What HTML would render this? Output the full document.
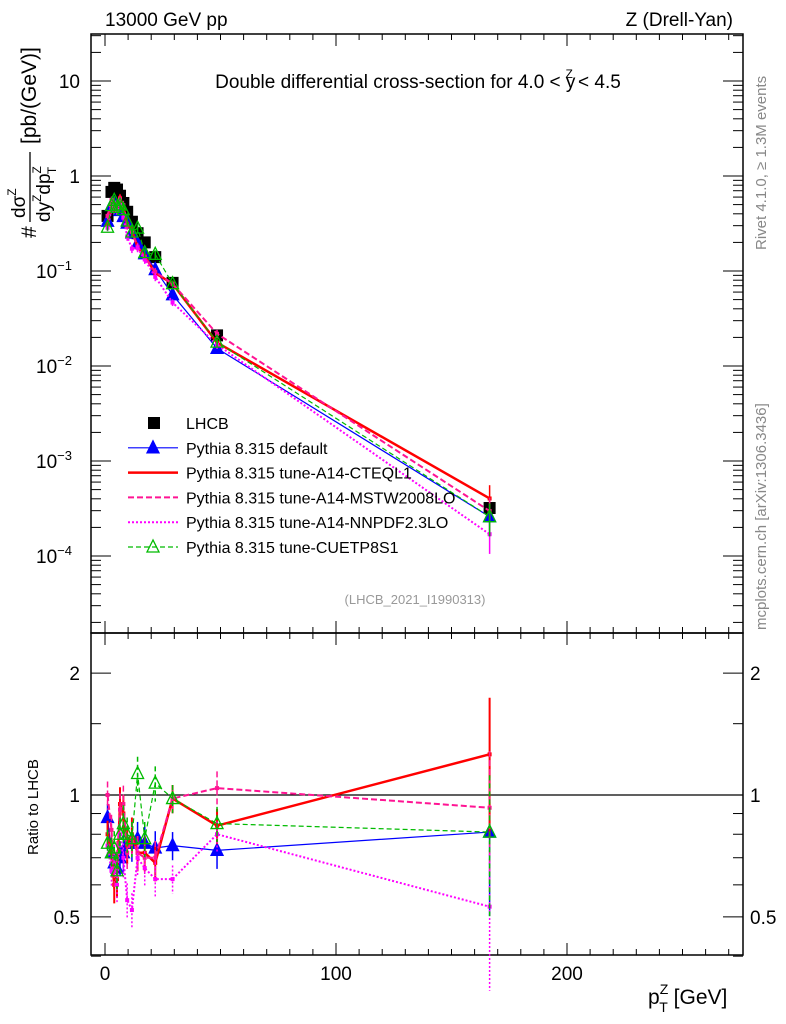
<!DOCTYPE html>
<html><head><meta charset="utf-8"><style>
html,body{margin:0;padding:0;background:#fff}
svg{display:block;font-family:"Liberation Sans",sans-serif}
</style></head><body>
<svg id="c" width="786" height="1024" viewBox="0 0 786 1024">
<g id="g"></g>
</svg>
<script>
const pt=[1.1,2.8,4.0,5.2,6.5,7.95,9.6,11.65,14.1,17.2,21.75,29.25,48.5,166.5];
const lhcb=[0.38,0.68,0.75,0.72,0.62,0.52,0.42,0.33,0.25,0.2,0.14,0.075,0.021,0.00032];
const ratioDefault=[0.88,0.72,0.68,0.66,0.70,0.72,0.76,0.76,0.78,0.76,0.74,0.75,0.73,0.81];
const ratioCteq=[0.8,0.72,0.6,0.62,0.95,0.9,0.75,0.8,0.72,0.72,0.68,0.98,0.84,1.26];
const ratioMstw=[1.0,0.82,0.65,0.7,0.92,0.95,0.72,0.78,0.72,0.70,0.70,0.98,1.04,0.93];
const ratioNnpdf=[0.75,0.65,0.7,0.6,0.8,0.7,0.55,0.52,0.7,0.66,0.62,0.62,0.80,0.53];
const ratioCuetp=[0.76,0.72,0.74,0.65,0.8,0.85,0.8,0.78,1.13,0.78,1.07,0.98,0.85,0.81];
const relErr=[0.08,0.09,0.1,0.1,0.1,0.11,0.1,0.1,0.1,0.1,0.1,0.08,0.1,0.38];
const xTicks=[0,100,200];
const mainTicks=[1,0,-1,-2,-3,-4];
const ratioTicks=[2,1,0.5];

const NS="http://www.w3.org/2000/svg";
const g=document.getElementById('g');
function el(t,a,p){const e=document.createElementNS(NS,t);for(const k in a)e.setAttribute(k,a[k]);(p||g).appendChild(e);return e;}
const L=91,R=743,T=34,MB=633,B=955;
const X=v=>105+v*2.31;
const Y=v=>176-95*Math.log10(v);
const YR=v=>795-405*Math.log10(v);

let f=el('rect',{x:L,y:T,width:R-L,height:MB-T,fill:'none',stroke:'#000','stroke-width':1.5});

f=el('rect',{x:L,y:MB,width:R-L,height:B-MB,fill:'none',stroke:'#000','stroke-width':1.5});


for(let v=0;v<=270;v+=10){const x=X(v);const len=v%100===0?12:6;
 el('line',{x1:x,y1:MB,x2:x,y2:MB-len,stroke:'#000'});el('line',{x1:x,y1:T,x2:x,y2:T+len,stroke:'#000'});
 el('line',{x1:x,y1:B,x2:x,y2:B-len,stroke:'#000'});el('line',{x1:x,y1:MB,x2:x,y2:MB+len,stroke:'#000'});}
xTicks.forEach(v=>{const t=el('text',{x:X(v),y:980,'font-size':19,'text-anchor':'middle'});t.textContent=v;
 });
for(let d=-5;d<=1;d++){for(let m=1;m<10;m++){const v=m*Math.pow(10,d);const y=Y(v);if(y<T||y>MB)continue;
 const len=m===1?20:10;el('line',{x1:L,y1:y,x2:L+len,y2:y,stroke:'#000'});el('line',{x1:R,y1:y,x2:R-len,y2:y,stroke:'#000'});}}
mainTicks.forEach(d=>{const y=Y(Math.pow(10,d));const t=el('text',{x:80,y:y+7,'font-size':19,'text-anchor':'end'});
 
 if(d===1)t.textContent='10';else if(d===0)t.textContent='1';else{t.textContent='10';const s=el('tspan',{dy:-8,'font-size':13},t);s.textContent='\u2212'+(-d);t.setAttribute('x',72);}});
[0.4,0.5,0.6,0.7,0.8,0.9,1,1.5,2].forEach(v=>{const y=YR(v);const len=(v===0.5||v===1||v===2)?20:10;
 el('line',{x1:L,y1:y,x2:L+len,y2:y,stroke:'#000'});el('line',{x1:R,y1:y,x2:R-len,y2:y,stroke:'#000'});});
ratioTicks.forEach(v=>{const y=YR(v);let t=el('text',{x:80,y:y+7,'font-size':19,'text-anchor':'end'});t.textContent=v;
 
 t=el('text',{x:750,y:y+7,'font-size':19});t.textContent=v;
 });
el('line',{x1:L,y1:YR(1),x2:R,y2:YR(1),stroke:'#000','stroke-width':1.2});

const series=[
 {name:'default',ratio:ratioDefault,col:'#0000ff',w:1.2,dash:'',mk:'tri'},
 {name:'cteq',ratio:ratioCteq,col:'#ff0000',w:2.5,dash:'',mk:'none'},
 {name:'mstw',ratio:ratioMstw,col:'#ff1493',w:2,dash:'6,3',mk:'none'},
 {name:'nnpdf',ratio:ratioNnpdf,col:'#ff00ff',w:2,dash:'2,2',mk:'none'},
 {name:'cuetp',ratio:ratioCuetp,col:'#00bb00',w:1.2,dash:'5,3',mk:'otri'}];
function tri(x,y,col,open,name){const p=el('polygon',{points:`${x},${y-7} ${x-6},${y+5} ${x+6},${y+5}`,fill:open?'none':col,stroke:col,'stroke-width':1.3});
 }

lhcb.forEach((v,i)=>{const r=el('rect',{x:X(pt[i])-6,y:Y(v)-6,width:12,height:12,fill:'#000'});
 });

series.forEach(s=>{
 const vals=s.ratio.map((r,i)=>r*lhcb[i]);
 const pts=vals.map((v,i)=>X(pt[i])+','+Y(v)).join(' ');
 let l=el('polyline',{points:pts,fill:'none',stroke:s.col,'stroke-width':s.w,'stroke-dasharray':s.dash});
 
 const rp=s.ratio.map((r,i)=>X(pt[i])+','+YR(r)).join(' ');
 l=el('polyline',{points:rp,fill:'none',stroke:s.col,'stroke-width':s.w,'stroke-dasharray':s.dash});
 
 vals.forEach((v,i)=>{const x=X(pt[i]);const r=s.ratio[i];const e=relErr[i];
  const eb=el('line',{x1:x,y1:YR(r*(1+e)),x2:x,y2:YR(r*(1-e)),stroke:s.col,'stroke-width':s.w>2?2:1.5,'stroke-dasharray':s.dash});
  
  const eb2=el('line',{x1:x,y1:Y(v*(1+e)),x2:x,y2:Y(v*(1-e)),stroke:s.col,'stroke-width':1.5});
  
  if(s.mk==='tri'){tri(x,Y(v),s.col,false,'point-'+s.name);tri(x,YR(r),s.col,false,'ratio-point-'+s.name);}
  else if(s.mk==='otri'){tri(x,Y(v),s.col,true,'point-'+s.name);tri(x,YR(r),s.col,true,'ratio-point-'+s.name);}
  else{el('rect',{x:x-2,y:Y(v)-2,width:4,height:4,fill:s.col});el('rect',{x:x-2,y:YR(r)-2,width:4,height:4,fill:s.col});}
 });
});

const labels=['LHCB','Pythia 8.315 default','Pythia 8.315 tune-A14-CTEQL1','Pythia 8.315 tune-A14-MSTW2008LO','Pythia 8.315 tune-A14-NNPDF2.3LO','Pythia 8.315 tune-CUETP8S1'];
labels.forEach((lab,i)=>{const y=423+i*24.8;
 if(i===0){const r=el('rect',{x:148,y:y-6,width:12,height:12,fill:'#000'});}
 else{const s=series[i-1];const l=el('line',{x1:128,y1:y,x2:178,y2:y,stroke:s.col,'stroke-width':s.w,'stroke-dasharray':s.dash});
  
  if(s.mk==='tri')tri(153,y,s.col,false,'legend-marker');if(s.mk==='otri')tri(153,y,s.col,true,'legend-marker');}
 const t=el('text',{x:186,y:y+6,'font-size':16});t.textContent=lab;
 });
</script>
<svg width="786" height="1024" style="position:absolute;left:0;top:0" font-family="Liberation Sans, sans-serif">
<text x="105" y="26" font-size="19">13000 GeV pp</text>
<text x="733" y="26" font-size="19" text-anchor="end">Z (Drell-Yan)</text>
<text x="418" y="88" font-size="19" text-anchor="middle">Double differential cross-section for 4.0 &lt; y<tspan dy="-10" dx="-10" font-size="12">Z</tspan><tspan dy="10"> &lt; 4.5</tspan></text>
<text x="415" y="604" font-size="13" fill="#999" text-anchor="middle">(LHCB_2021_I1990313)</text>
<text transform="translate(766,250) rotate(-90)" font-size="15" fill="#888">Rivet 4.1.0, ≥ 1.3M events</text>
<text transform="translate(766,630) rotate(-90)" font-size="15" fill="#888">mcplots.cern.ch [arXiv:1306.3436]</text>
<g transform="translate(28,238) rotate(-90)" font-size="21">
<text x="0" y="8">#</text>
<text x="20" y="-3" font-size="19">dσ<tspan font-size="12" dy="-9">Z</tspan></text>
<line x1="16" y1="2" x2="86" y2="2" stroke="#000" stroke-width="1.3"/>
<text x="16" y="22" font-size="19">dy<tspan font-size="12" dy="-9">Z</tspan><tspan dy="9">dp</tspan><tspan font-size="12" dy="-9">Z</tspan><tspan font-size="12" dy="15" dx="-8">T</tspan></text>
<text x="94" y="8">[pb/(GeV)]</text>
</g>
<text transform="translate(38,855) rotate(-90)" font-size="15">Ratio to LHCB</text>
<text x="648" y="1004" font-size="21">p<tspan font-size="14" dy="-10">Z</tspan><tspan font-size="14" dy="18" dx="-9">T</tspan><tspan dy="-8"> [GeV]</tspan></text>
</svg>
</body></html>
